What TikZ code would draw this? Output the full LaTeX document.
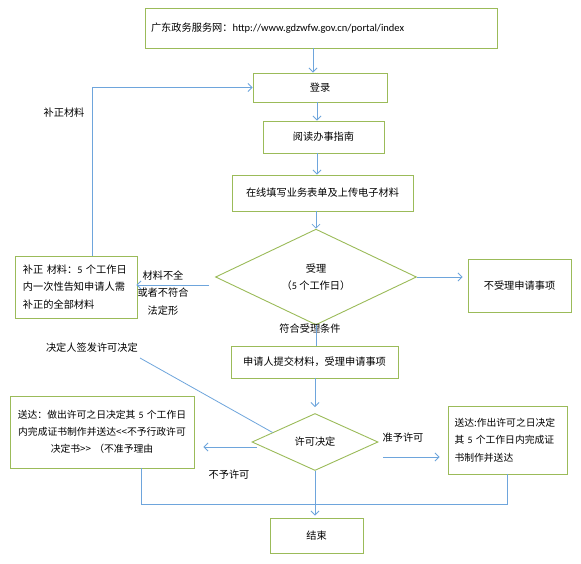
\documentclass[tikz,border=0pt]{standalone}
\usepackage{fontspec}
\setmainfont{Noto Sans CJK SC}
\newfontfamily\lat{Carlito}
\usetikzlibrary{shapes.geometric,arrows.meta,calc}
\definecolor{boxgreen}{RGB}{155,187,89}
\definecolor{lineblue}{RGB}{110,165,220}
\begin{document}
\begin{tikzpicture}[x=1pt,y=-1pt,
  every node/.style={font=\fontsize{10.2}{17.5}\selectfont, text=black},
  box/.style={draw=boxgreen, line width=0.9pt, inner sep=0pt, align=center},
  dia/.style={draw=boxgreen, line width=0.9pt, diamond, inner sep=0pt, align=center},
  conn/.style={draw=lineblue, line width=0.8pt},
  arr/.style={conn, -{Straight Barb[length=4pt,width=8pt]}},
  lbl/.style={inner sep=0pt, align=center}]
\useasboundingbox (0,0) rectangle (581,564);
\fill[white] (0,0) rectangle (581,564);

% boxes
\node[box, text width=340pt, inner xsep=6pt, minimum height=40pt, align=left] (web) at (321,28)
  {广东政务服务网：{\lat\fontsize{10.5}{12}\selectfont http://www.gdzwfw.gov.cn/portal/index}};
\node[box, minimum width=134pt, minimum height=29pt] (login) at (320,87.5) {登录};
\node[box, minimum width=121pt, minimum height=32pt] (guide) at (323.5,137) {阅读办事指南};
\node[box, minimum width=181pt, minimum height=36pt] (fill) at (322.5,193) {在线填写业务表单及上传电子材料};
\node[dia, minimum width=201pt, minimum height=83pt] (accept) at (316,277) {受理\\（{\lat 5} 个工作日）};
\node[box, minimum width=103pt, minimum height=53pt] (noacc) at (519.5,285.5) {不受理申请事项};
\node[box, text width=106pt, inner xsep=8pt, minimum height=62pt, align=left] (fix) at (76,287)
  {补正 材料：{\lat 5} 个工作日\\内一次性告知申请人需\\补正的全部材料};
\node[box, minimum width=167pt, minimum height=32pt] (apply) at (314.5,362) {申请人提交材料，受理申请事项};
\node[dia, minimum width=126pt, minimum height=57pt] (decide) at (315,442) {许可决定};
\node[box, text width=106pt, inner xsep=6.5pt, minimum height=68pt, align=left,
  font=\fontsize{9.8}{17.5}\selectfont] (rsend) at (507.5,440)
  {送达:作出许可之日决定\\其 {\lat 5} 个工作日内完成证\\书制作并送达};
\node[box, text width=176pt, inner xsep=4pt, minimum height=72pt,
  font=\fontsize{9.8}{17}\selectfont] (lsend) at (102,432)
  {送达：做出许可之日决定其 {\lat 5} 个工作日\\内完成证书制作并送达<{}<不予行政许可\\决定书>{}> （不准予理由};
\node[box, minimum width=93pt, minimum height=35pt] (end) at (316.5,535.5) {结束};

% labels
\node[lbl] (lbfix) at (64,113) {补正材料};
\node[lbl] (lbno) at (163,293) {材料不全\\或者不符合\\法定形};
\node[lbl] (lbok) at (310,329) {符合受理条件};
\node[lbl, anchor=south east] (lbsign) at (138,353) {决定人签发许可决定};
\node[lbl] (lbgrant) at (403,438) {准予许可};
\node[lbl] (lbdeny) at (229,475) {不予许可};

% connectors
\draw[arr] ([xshift=-7pt]login.north |- web.south) -- ([xshift=-7pt]login.north);
\draw[arr] ([xshift=-3pt]login.south) -- ([xshift=-3pt]login.south |- guide.north);
\draw[arr] ([xshift=-3pt]login.south |- guide.south) -- ([xshift=-3pt]login.south |- fill.north);
\draw[arr] (accept.north |- fill.south) -- (accept.north);
\draw[arr, shorten >=5pt] (accept.east) -- (accept.east -| noacc.west);
\draw[arr, shorten >=5pt] ([xshift=-6pt,yshift=-8pt]accept.west) -- ([xshift=-6pt,yshift=-8pt]accept.west -| fix.east);
\draw[arr] ([xshift=16pt]fix.north) |- (login.west);
\draw[conn] (accept.south) -- (accept.south |- apply.north);
\draw[arr, shorten >=6pt] (decide.north |- apply.south) -- (decide.north);
\draw[arr, shorten >=13pt] ([xshift=5pt,yshift=-15pt]decide.east) -- ([xshift=5pt,yshift=-15pt]decide.east -| rsend.west);
\draw[arr, shorten >=4pt] ([xshift=5pt,yshift=-5pt]decide.west) -- ([xshift=5pt,yshift=-5pt]decide.west -| lsend.east);
\draw[conn] ([shift={(2pt,-5pt)}]lbsign.south east) -- ($(decide.west)!0.33!(decide.north)$);
\coordinate (busL) at (141,504);
\coordinate (busR) at (507.5,504);
\draw[conn] ([xshift=39pt]lsend.south) -- (busL) -- (busR) -- (rsend.south);
\draw[arr, shorten >=2pt] (decide.south) -- (decide.south |- end.north);
\end{tikzpicture}
\end{document}
